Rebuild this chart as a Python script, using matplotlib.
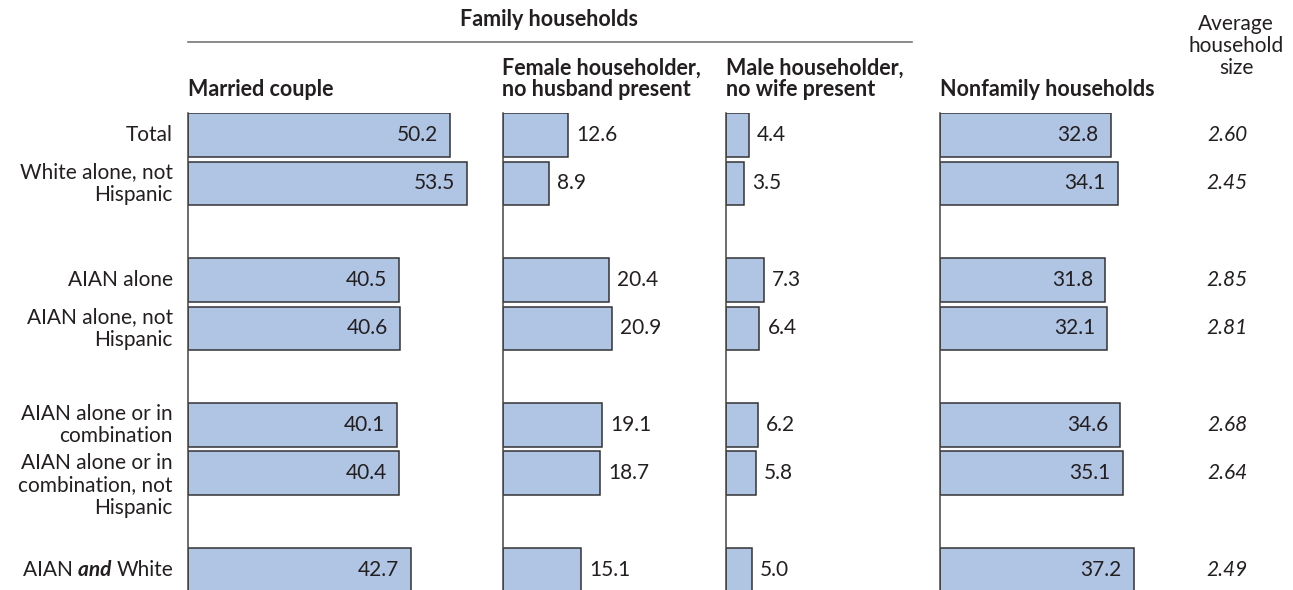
import matplotlib
matplotlib.use("Agg")
import matplotlib.pyplot as plt
from matplotlib.transforms import blended_transform_factory

# ---------------- data ----------------
categories = ["Total", "White alone, not\nHispanic", "AIAN alone",
              "AIAN alone, not\nHispanic", "AIAN alone or in\ncombination",
              "AIAN alone or in\ncombination, not\nHispanic", "AIAN and White"]
married = [50.2, 53.5, 40.5, 40.6, 40.1, 40.4, 42.7]
female = [12.6, 8.9, 20.4, 20.9, 19.1, 18.7, 15.1]
male = [4.4, 3.5, 7.3, 6.4, 6.2, 5.8, 5.0]
nonfamily = [32.8, 34.1, 31.8, 32.1, 34.6, 35.1, 37.2]
avg_size = ["2.60", "2.45", "2.85", "2.81", "2.68", "2.64", "2.49"]
panel_titles = ["Married couple", "Female householder,\nno husband present",
                "Male householder,\nno wife present", "Nonfamily households"]
group_title = "Family households"
avg_title = "Average\nhousehold\nsize"

# ---------------- layout ----------------
W, H, DPI = 1293, 590, 100
FONT = "Lato"
BAR = "#b0c4e4"
EDGE = "#333333"
TXT = "#231f20"
row_slots = [0, 1, 3, 4, 6, 7, 9]   # rows grouped with blank slots between groups
px_per_unit = 5.22
panel_left = [188, 502.5, 726, 939.5]
panel_w = 300
inside = [True, False, False, True]
series = [married, female, male, nonfamily]

plt.rcParams["font.family"] = [FONT, "DejaVu Sans"]
fig = plt.figure(figsize=(W / DPI, H / DPI), dpi=DPI)

top_px = 113
axes = []
for left, vals, ins in zip(panel_left, series, inside):
    ax = fig.add_axes([left / W, 0, panel_w / W, (H - top_px) / H])
    ax.barh(row_slots, vals, height=0.9, color=BAR, edgecolor=EDGE, linewidth=1.1)
    ax.set_xlim(0, panel_w / px_per_unit)
    ax.set_ylim(9.42, -0.46)
    for s in ["top", "right", "bottom"]:
        ax.spines[s].set_visible(False)
    ax.spines["left"].set_color("#444444")
    ax.spines["left"].set_linewidth(1.1)
    ax.set_xticks([])
    ax.set_yticks([])
    ax.patch.set_alpha(0)
    for y, v in zip(row_slots, vals):
        if ins:
            ax.annotate(f"{v:.1f}", xy=(v, y), xytext=(-12, 0), textcoords="offset pixels",
                        ha="right", va="center", fontsize=15, color=TXT)
        else:
            ax.annotate(f"{v:.1f}", xy=(v, y), xytext=(8, 0), textcoords="offset pixels",
                        ha="left", va="center", fontsize=15, color=TXT)
    axes.append(ax)

ax0 = axes[0]
# category labels
for y, lab in zip(row_slots, categories):
    nlines = lab.count("\n") + 1
    dy = -12 if nlines == 3 else 0
    if lab == "AIAN and White":
        t3 = ax0.annotate("White", xy=(0, y), xycoords=("axes fraction", "data"),
                          xytext=(-15, 0), textcoords="offset pixels",
                          ha="right", va="center", fontsize=15, color=TXT)
        fig.canvas.draw()
        r = fig.canvas.get_renderer()
        w3 = t3.get_window_extent(r).width
        t2 = ax0.annotate("and ", xy=(0, y), xycoords=("axes fraction", "data"),
                          xytext=(-15 - w3, 0), textcoords="offset pixels",
                          ha="right", va="center", fontsize=15, color=TXT,
                          fontweight="bold", fontstyle="italic")
        w2 = t2.get_window_extent(r).width
        ax0.annotate("AIAN ", xy=(0, y), xycoords=("axes fraction", "data"),
                     xytext=(-15 - w3 - w2, 0), textcoords="offset pixels",
                     ha="right", va="center", fontsize=15, color=TXT)
    else:
        ax0.annotate(lab, xy=(0, y), xycoords=("axes fraction", "data"),
                     xytext=(-15, dy), textcoords="offset pixels",
                     ha="right", va="center", fontsize=15, color=TXT,
                     multialignment="right", linespacing=1.15)

# average household size column
tr = blended_transform_factory(fig.transFigure, ax0.transData)
for y, s in zip(row_slots, avg_size):
    fig.text(1248 / W, y, s, transform=tr, ha="right", va="center",
             fontsize=15, fontstyle="italic", color=TXT)
fig.text(1236 / W, 1 - 46 / H, avg_title, ha="center", va="center",
         fontsize=15, color=TXT, linespacing=1.15)

# headers
for left, title in zip(panel_left, panel_titles):
    fig.text(left / W, 1 - 100 / H, title, ha="left", va="bottom",
             fontsize=15.5, fontweight="bold", color=TXT, linespacing=1.0)
fig.text(549 / W, 1 - 20 / H, group_title, ha="center", va="center",
         fontsize=15.5, fontweight="bold", color=TXT)
fig.add_artist(plt.Line2D([188 / W, 912 / W], [1 - 42 / H, 1 - 42 / H],
                          color="#777777", linewidth=1.2, transform=fig.transFigure))

fig.savefig("out.png", dpi=DPI)
